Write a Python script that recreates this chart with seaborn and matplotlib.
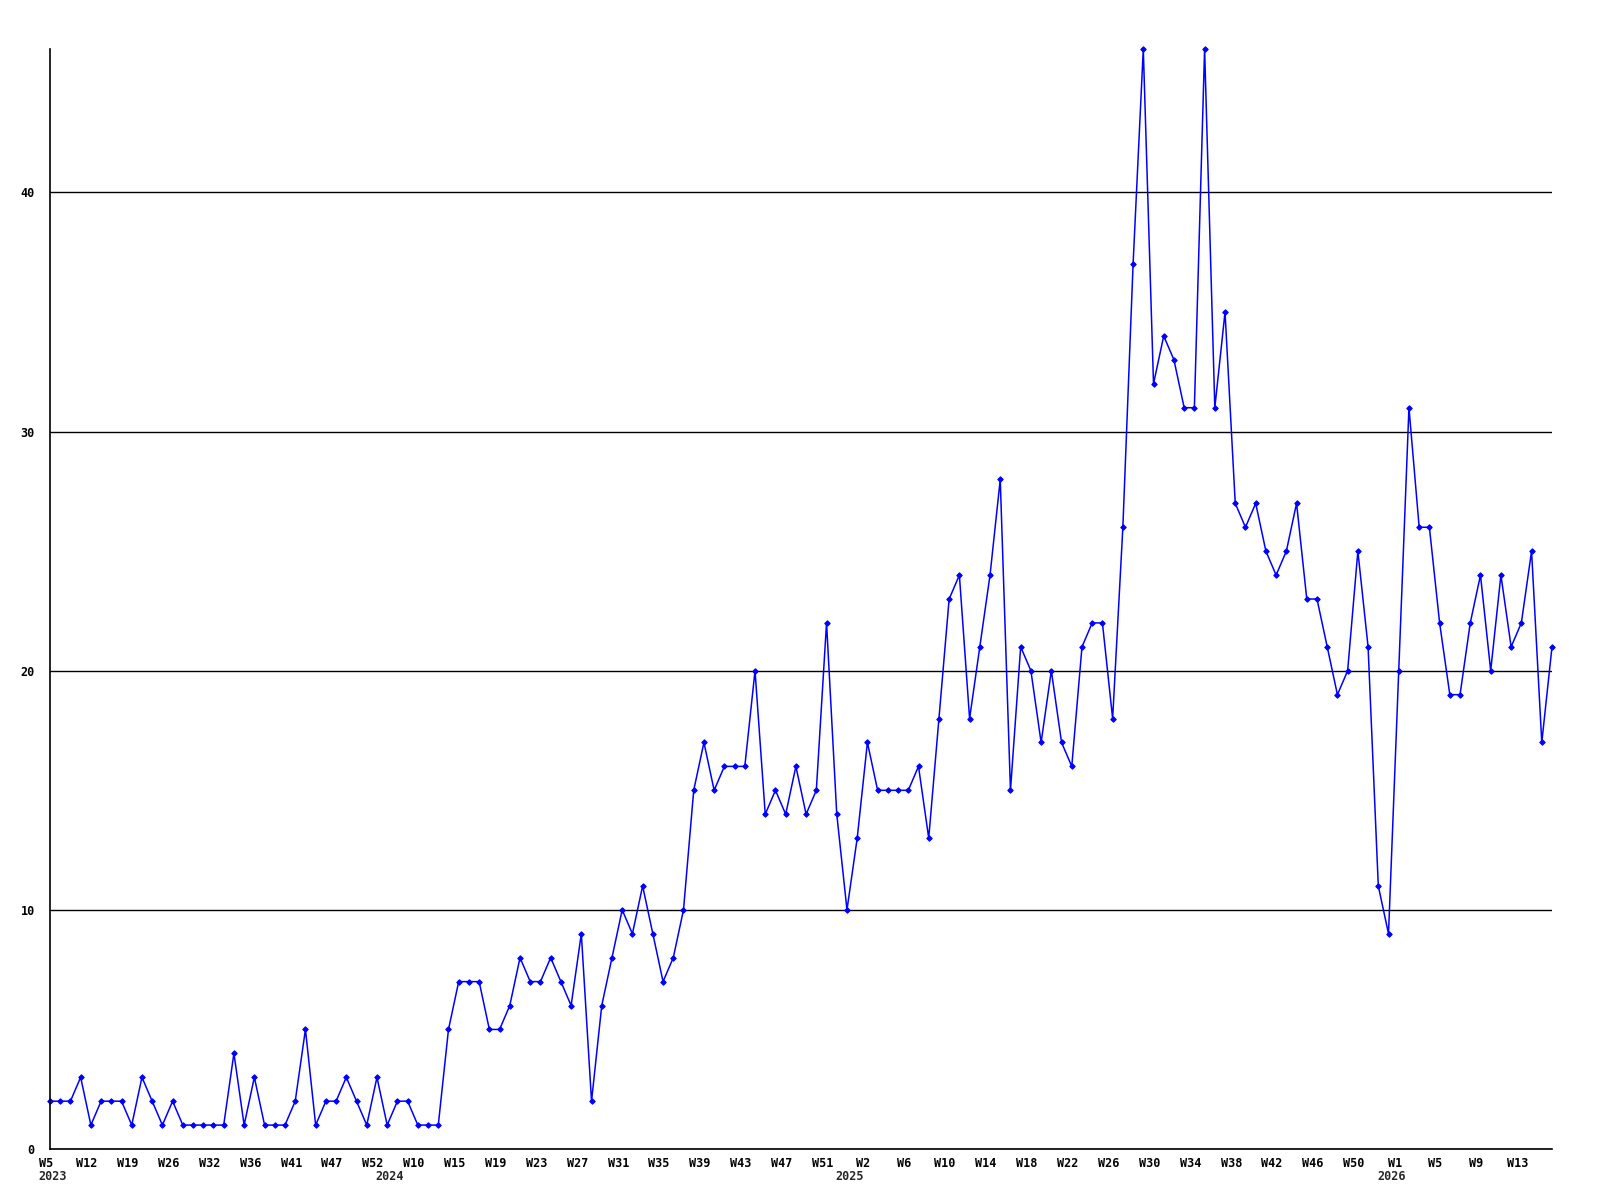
import numpy as np
import pandas as pd
import matplotlib
matplotlib.use("Agg")
import matplotlib.pyplot as plt
import matplotlib.transforms as mtransforms
import seaborn as sns

# weekly counts, one per point (2023 W5 .. 2026 W16)
counts = [
    2, 2, 2, 3, 1, 2, 2, 2, 1, 3, 2, 1, 2, 1, 1, 1, 1, 1, 4, 1,
    3, 1, 1, 1, 2, 5, 1, 2, 2, 3, 2, 1, 3, 1, 2, 2, 1, 1, 1, 5,
    7, 7, 7, 5, 5, 6, 8, 7, 7, 8, 7, 6, 9, 2, 6, 8, 10, 9, 11, 9,
    7, 8, 10, 15, 17, 15, 16, 16, 16, 20, 14, 15, 14, 16, 14, 15, 22, 14, 10, 13,
    17, 15, 15, 15, 15, 16, 13, 18, 23, 24, 18, 21, 24, 28, 15, 21, 20, 17, 20, 17,
    16, 21, 22, 22, 18, 26, 37, 46, 32, 34, 33, 31, 31, 46, 31, 35, 27, 26, 27, 25,
    24, 25, 27, 23, 23, 21, 19, 20, 25, 21, 11, 9, 20, 31, 26, 26, 22, 19, 19, 22,
    24, 20, 24, 21, 22, 25, 17, 21,
]

# week labels shown on every 4th point
week_ticks = [
    "W5", "W12", "W19", "W26", "W32", "W36", "W41", "W47", "W52", "W10",
    "W15", "W19", "W23", "W27", "W31", "W35", "W39", "W43", "W47", "W51",
    "W2", "W6", "W10", "W14", "W18", "W22", "W26", "W30", "W34", "W38",
    "W42", "W46", "W50", "W1", "W5", "W9", "W13",
]

# point under which each year is written
years = ["2023", "2024", "2025", "2026"]
year_start = [0, 33, 78, 131]

df = pd.DataFrame({"idx": np.arange(len(counts)), "count": counts})

sns.set_style("white")
plt.rcParams["font.family"] = ["DejaVu Sans Mono"]
plt.rcParams["font.weight"] = "bold"

fig = plt.figure(figsize=(16, 12), dpi=100)
ax = fig.add_axes([50 / 1600, 1 - 1149 / 1200, 1502 / 1600, 1100 / 1200])

sns.lineplot(data=df, x="idx", y="count", ax=ax, color="#0000ff",
             linewidth=1.1, marker="D", markersize=2.8,
             markeredgecolor="#0000ff", clip_on=False)

ax.set_xlim(0, len(counts) - 1)
ax.set_ylim(0, 46)
ax.set_yticks([0, 10, 20, 30, 40])
ax.set_xticks(np.arange(0, len(counts), 4))
ax.set_xticklabels(week_ticks)
ax.tick_params(axis="both", length=0, labelsize=8.5, colors="black")
ax.tick_params(axis="y", pad=11)
ax.tick_params(axis="x", pad=6)
shift = mtransforms.ScaledTranslation(-4 / 100, 0, fig.dpi_scale_trans)
for lab in ax.get_xticklabels():
    lab.set_fontweight("bold")
    lab.set_transform(lab.get_transform() + shift)
for lab in ax.get_yticklabels():
    lab.set_fontweight("bold")

ax.grid(axis="y", color="black", linewidth=1)
ax.set_axisbelow(True)
for side in ["top", "right"]:
    ax.spines[side].set_visible(False)
for side in ["left", "bottom"]:
    ax.spines[side].set_color("black")
    ax.spines[side].set_linewidth(1.2)

for yr, pos in zip(years, year_start):
    ax.annotate(yr, xy=(pos, 0), xycoords=("data", "axes fraction"),
                xytext=(2, -20), textcoords="offset points",
                ha="center", va="center", fontsize=8.5, fontweight="bold")

ax.set_xlabel("")
ax.set_ylabel("")

fig.savefig("out.png", dpi=100)
